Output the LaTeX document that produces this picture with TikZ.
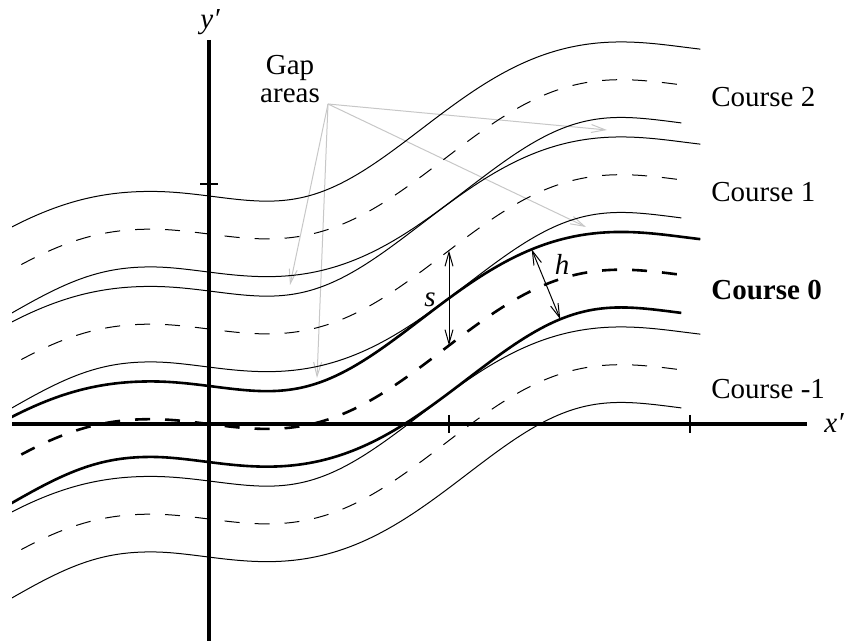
\documentclass[tikz,border=0pt]{standalone}
\usepackage{fontspec}
\setmainfont{Liberation Serif}
\usetikzlibrary{arrows.meta}
\newcommand{\coursecurve}[4]{%
  \draw[#1] plot[variable=\t, domain=-240:#4, samples=200]
   ({209+\t-(#3)*37.75*fd(\t)/sqrt(1+fd(\t)*fd(\t))},
    {424-fc(\t)-(#2)*95-(#3)*37.75/sqrt(1+fd(\t)*fd(\t))});}
\begin{document}
\begin{tikzpicture}[x=0.5pt,y=-0.5pt,
 declare function={
   fc(\t)=33.3*sin(deg(0.01336*(\t-235)))+0.318*(\t-235)+74.7+(0.02371*min(\t+58,0))*(0.02371*min(\t+58,0));
   fd(\t)=0.4449*cos(deg(0.01336*(\t-235)))+0.318+0.001124*min(\t+58,0);
 },
 thinln/.style={line width=0.5pt},
 thickln/.style={line width=1.3pt},
 dashln/.style={dash pattern=on 7.5pt off 7.5pt},
 axisln/.style={line width=1.75pt},
 tickln/.style={line width=1.4pt},
 gaparrow/.style={draw=black!22, line width=0.5pt, -{Straight Barb[length=7pt,width=4pt]}},
 dimarrow/.style={line width=0.5pt, {Straight Barb[length=7pt,width=4pt]}-{Straight Barb[length=7pt,width=4pt]}},
 lbl/.style={font=\fontsize{14.5}{14}\selectfont, inner sep=0pt},
]
\useasboundingbox (0,0) rectangle (847,641);

% labels
\node[lbl, anchor=base] (yl) at (210,29) {\itshape y′};
\node[lbl, anchor=base] (xl) at (834,433) {\itshape x′};
\node[lbl, align=center] (gap) at (290,79) {Gap\\areas};
\node[lbl, anchor=base west] (c2) at (711,106.5) {Course 2};
\node[lbl, anchor=base west] (c1) at (711,201.5) {Course 1};
\node[lbl, anchor=base west, font=\fontsize{14.5}{14}\selectfont\bfseries] (c0) at (711,300) {Course 0};
\node[lbl, anchor=base west] (cm1) at (711,399) {Course -1};

% gap area pointers
\coordinate (gsrc) at (328,104);
\coordinate (g1) at (290,285);
\coordinate (g2) at (317,378);
\coordinate (g3) at (607,130);
\coordinate (g4) at (586,227);
\draw[gaparrow] (gsrc) -- (g1);
\draw[gaparrow] (gsrc) -- (g2);
\draw[gaparrow] (gsrc) -- (g3);
\draw[gaparrow] (gsrc) -- (g4);

% courses
\begin{scope}
\clip (12,0) rectangle (847,641);
\foreach \k in {2,1,-1}{
  \coursecurve{thinln}{\k}{1}{487}
  \coursecurve{thinln}{\k}{-1}{477}
  \coursecurve{thinln,dashln}{\k}{0}{477}
}
\coursecurve{thickln}{0}{1}{487}
\coursecurve{thickln}{0}{-1}{477}
\coursecurve{thickln,dashln}{0}{0}{477}
\end{scope}

% axes
\coordinate (ytop) at (209,40);
\coordinate (ybot) at (209,641);
\coordinate (xleft) at (12,424);
\coordinate (xright) at (807,424);
\draw[axisln] (ytop) -- (ybot);
\draw[axisln] (xleft) -- (xright);
\coordinate (ty1) at (200,184);
\coordinate (ty2) at (218,184);
\draw[tickln] (ty1) -- (ty2);
\coordinate (tx1a) at (449,415);
\coordinate (tx1b) at (449,433);
\draw[tickln] (tx1a) -- (tx1b);
\coordinate (tx2a) at (690,415);
\coordinate (tx2b) at (690,433);
\draw[tickln] (tx2a) -- (tx2b);

% dimension arrows
\coordinate (sT) at (449,{424-fc(240)-95});
\coordinate (sB) at (449,{424-fc(240)});
\draw[dimarrow] (sT) -- (sB);
\node[lbl, anchor=base] (sl) at (430,307) {\itshape s};
\coordinate (hT) at ({209+337-37.75*fd(337)/sqrt(1+fd(337)*fd(337))},{424-fc(337)-37.75/sqrt(1+fd(337)*fd(337))});
\coordinate (hB) at ({209+337+37.75*fd(337)/sqrt(1+fd(337)*fd(337))},{424-fc(337)+37.75/sqrt(1+fd(337)*fd(337))});
\draw[dimarrow] (hT) -- (hB);
\node[lbl, anchor=base] (hl) at (562,275) {\itshape h};
\end{tikzpicture}
\end{document}
